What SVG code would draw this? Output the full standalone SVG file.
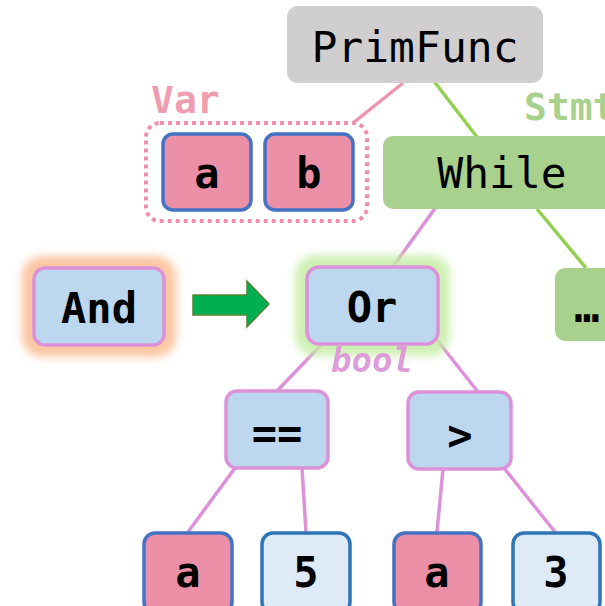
<svg xmlns="http://www.w3.org/2000/svg" width="605" height="606" viewBox="0 0 605 606">
  <defs>
    <style>
      .mono { font-family: "DejaVu Sans Mono", "Liberation Mono", monospace; }
      .title { font-size: 43px; fill: #000; text-anchor: middle; }
      .lbl { font-size: 42px; font-weight: bold; fill: #000; text-anchor: middle; }
      .expr { fill: #bdd7ee; stroke: #dc92d8; stroke-width: 3.5; }
      .var { fill: #ec90a8; stroke: #4472c4; stroke-width: 3.5; }
      .const { fill: #deebf7; stroke: #2e75b6; stroke-width: 3.5; }
      .stmt { fill: #a9d18e; }
      .edge { fill: none; stroke-width: 3.5; }
      .e-expr { stroke: #dc92d8; }
      .e-stmt { stroke: #92d050; }
      .e-var { stroke: #ee95ab; }
    </style>
    <filter id="glow" x="-30%" y="-30%" width="160%" height="160%">
      <feGaussianBlur stdDeviation="4"/>
    </filter>
  </defs>

  <!-- tree edges -->
  <g id="connectors">
    <line class="edge e-var" x1="403" y1="83" x2="353" y2="123"/>
    <line class="edge e-stmt" x1="433" y1="80" x2="477" y2="137"/>
    <line class="edge e-stmt" x1="537" y1="209" x2="586" y2="268"/>
    <line class="edge e-expr" x1="436" y1="207" x2="392" y2="268"/>
    <line class="edge e-expr" x1="322" y1="344" x2="277" y2="391"/>
    <line class="edge e-expr" x1="437" y1="340" x2="478" y2="392"/>
    <line class="edge e-expr" x1="235" y1="468" x2="188" y2="532"/>
    <line class="edge e-expr" x1="302" y1="468" x2="306" y2="532"/>
    <line class="edge e-expr" x1="443" y1="469" x2="437" y2="532"/>
    <line class="edge e-expr" x1="504" y1="468" x2="555" y2="532"/>
  </g>

  <!-- type labels -->
  <text class="mono" x="151" y="113" font-size="38" font-weight="bold" fill="#ef9db1">Var</text>
  <text class="mono" x="524" y="120" font-size="38" font-weight="bold" fill="#a9d18e">Stmt</text>

  <g id="primfunc">
    <rect x="287" y="6" width="256" height="77" rx="11" fill="#d0cecf"/>
    <text class="mono title" x="415" y="62">PrimFunc</text>
  </g>

  <g id="params">
    <rect x="146" y="123" width="221" height="98" rx="14" fill="none" stroke="#ee90a8" stroke-width="4" stroke-dasharray="4 4"/>
  </g>

  <g id="param-a">
    <rect class="var" x="163" y="134" width="88" height="76" rx="10"/>
    <text class="mono lbl" x="207" y="188">a</text>
  </g>

  <g id="param-b">
    <rect class="var" x="265" y="134" width="88" height="76" rx="10"/>
    <text class="mono lbl" x="309" y="188">b</text>
  </g>

  <g id="while">
    <rect class="stmt" x="383" y="136" width="240" height="73" rx="10"/>
    <text class="mono title" x="502" y="188">While</text>
  </g>

  <g id="rest">
    <rect class="stmt" x="555" y="268" width="70" height="73" rx="10"/>
    <text class="mono lbl" x="587" y="322">…</text>
  </g>

  <g id="and">
    <rect x="22" y="256" width="154" height="101" rx="20" fill="#fbc6a2" filter="url(#glow)"/>
    <rect class="expr" x="34" y="268" width="130" height="77" rx="11"/>
    <text class="mono lbl" x="99" y="323">And</text>
  </g>

  <g id="rewrite-arrow">
    <polygon points="193,295 247,295 247,281 269,304 247,327 247,315 193,315" fill="#00b050" stroke="#548235" stroke-width="1.5"/>
  </g>

  <g id="or">
    <rect x="295" y="255" width="155" height="101" rx="20" fill="#c6eda6" filter="url(#glow)" opacity="0.85"/>
    <rect class="expr" x="307" y="267" width="131" height="77" rx="12"/>
    <text class="mono lbl" x="372" y="322">Or</text>
    <text class="mono" x="372" y="372" font-size="34" font-weight="bold" font-style="italic" fill="#dc92d8" text-anchor="middle" opacity="0.9">bool</text>
  </g>

  <g id="eq">
    <rect class="expr" x="226" y="391" width="102" height="77" rx="11"/>
    <text class="mono lbl" x="277" y="448">==</text>
  </g>

  <g id="gt">
    <rect class="expr" x="408" y="392" width="103" height="77" rx="11"/>
    <text class="mono lbl" x="460" y="450">&gt;</text>
  </g>

  <g id="eq-a">
    <rect class="var" x="144" y="533" width="88" height="80" rx="11"/>
    <text class="mono lbl" x="188" y="587">a</text>
  </g>

  <g id="eq-5">
    <rect class="const" x="262" y="533" width="88" height="80" rx="11"/>
    <text class="mono lbl" x="306" y="587">5</text>
  </g>

  <g id="gt-a">
    <rect class="var" x="394" y="533" width="87" height="80" rx="11"/>
    <text class="mono lbl" x="437" y="587">a</text>
  </g>

  <g id="gt-3">
    <rect class="const" x="513" y="533" width="87" height="80" rx="11"/>
    <text class="mono lbl" x="556" y="587">3</text>
  </g>
</svg>
